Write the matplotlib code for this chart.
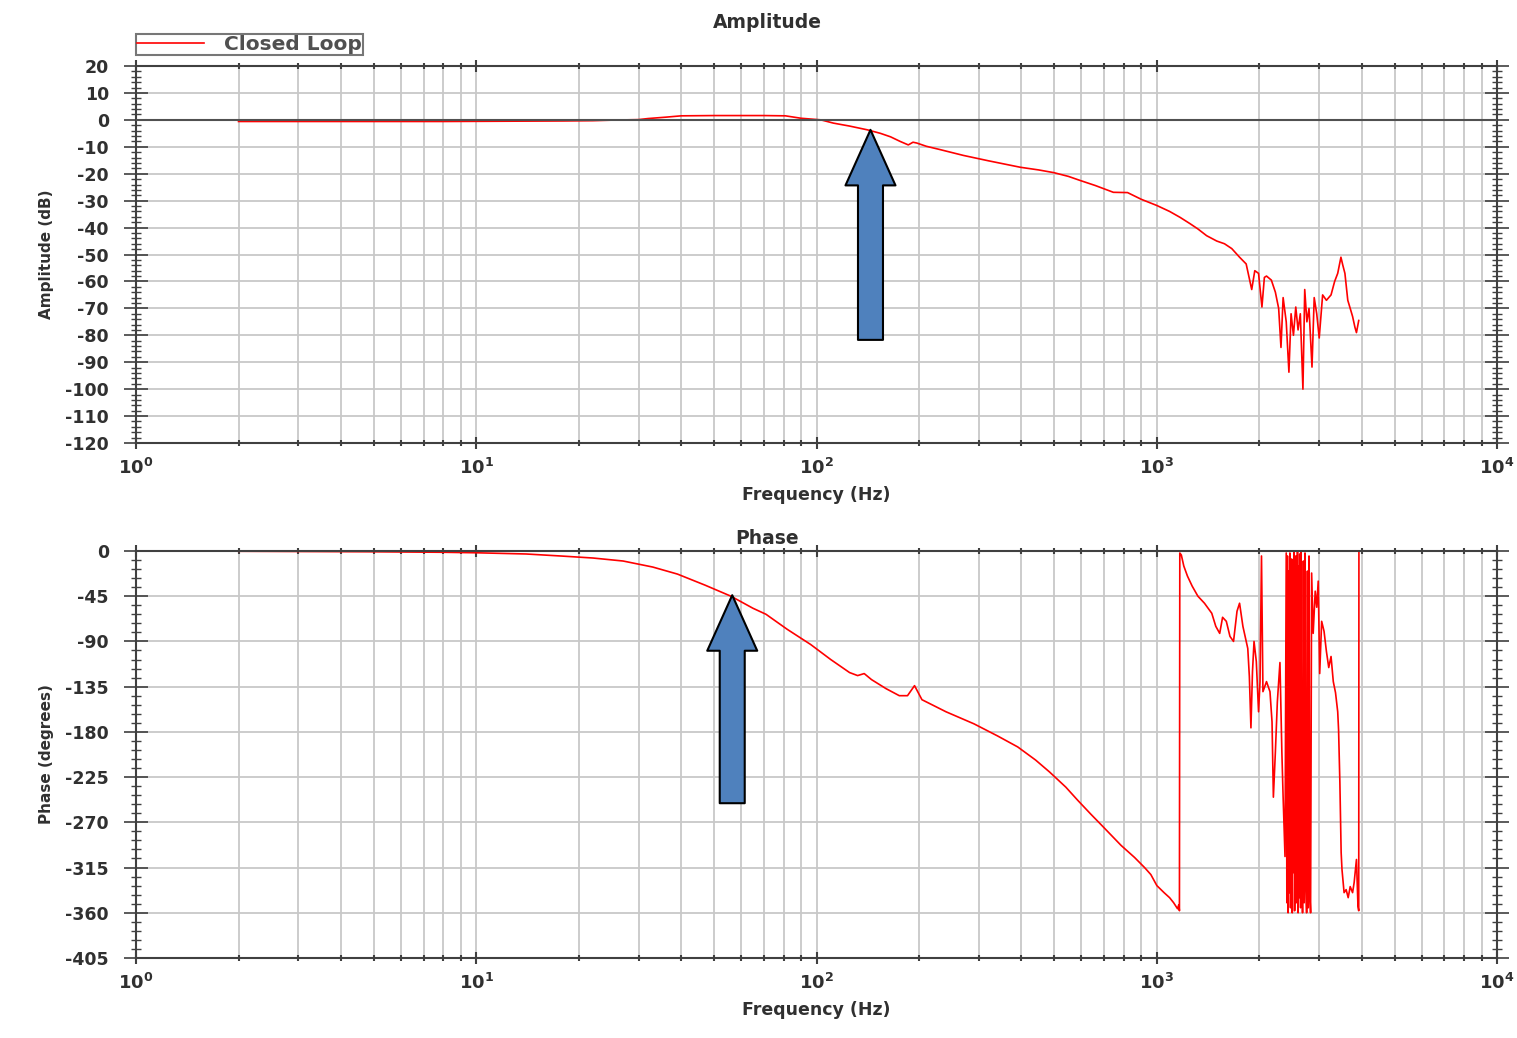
import numpy as np
import matplotlib
matplotlib.use("Agg")
import matplotlib.pyplot as plt
from matplotlib.ticker import MultipleLocator, LogLocator, LogFormatterMathtext, NullFormatter
from matplotlib.patches import FancyArrowPatch

# Closed-loop Bode data
amp_freq = [2, 3, 5, 8, 12, 18, 22, 25, 30, 32, 36, 40, 50, 60, 70, 81, 90,
            103, 112, 125, 141, 154, 165, 176, 186, 192, 197, 210, 230, 270,
            320, 397, 450, 498, 550, 595, 660, 745, 820, 900, 1000, 1090,
            1170, 1250, 1320, 1400, 1500, 1580, 1660, 1750, 1830, 1900, 1940,
            1990, 2036, 2070, 2100, 2170, 2230, 2280, 2316, 2350, 2400, 2444,
            2480, 2520, 2560, 2600, 2640, 2687, 2720, 2760, 2800, 2857, 2900,
            2950, 3000, 3070, 3150, 3250, 3330, 3400, 3475, 3520, 3570, 3640,
            3700, 3760, 3820, 3860, 3920]
amp_db = [-0.6, -0.6, -0.6, -0.6, -0.5, -0.4, -0.3, -0.1, 0.1, 0.5, 1.0, 1.5,
          1.6, 1.6, 1.6, 1.5, 0.6, 0.0, -1.2, -2.3, -3.7, -5.0, -6.3, -8.0,
          -9.3, -8.3, -8.6, -9.8, -11.0, -13.2, -15.2, -17.6, -18.6, -19.6,
          -21.0, -22.5, -24.4, -26.9, -27.0, -29.5, -31.8, -34.0, -36.2,
          -38.5, -40.5, -43.0, -45.0, -46.0, -47.8, -51.0, -53.5, -63.0,
          -56.0, -57.0, -69.5, -58.5, -58.0, -59.5, -64.0, -70.0, -84.5,
          -66.0, -75.0, -93.7, -72.0, -80.0, -69.5, -78.0, -72.0, -100.0,
          -63.0, -75.0, -70.0, -91.8, -66.0, -72.0, -81.0, -65.0, -67.0,
          -65.0, -60.0, -57.0, -51.0, -54.0, -57.0, -67.0, -70.0, -73.0,
          -77.0, -79.0, -74.5]

phase_freq = [2, 3, 5, 8, 10, 14, 17.7, 22, 27, 33, 39, 47, 56, 65, 71, 82,
              96, 110, 125, 132, 138, 145, 160, 175, 185, 194, 204, 240, 290,
              340, 390, 440, 484, 540, 585, 640, 684, 740, 785, 860, 920, 960,
              1000, 1050, 1090, 1120, 1150, 1160, 1165, 1168, 1180, 1200, 1230,
              1270, 1320, 1380, 1450, 1490, 1530, 1560, 1600, 1640, 1680, 1720,
              1750, 1790, 1850, 1870, 1890, 1910, 1930, 1960, 1990, 2010, 2030,
              2050, 2100, 2150, 2180, 2200, 2230, 2260, 2300, 2330, 2350, 2380,
              2400, 2410, 2420, 2430, 2440, 2450, 2460, 2470, 2480, 2490, 2500,
              2510, 2520, 2530, 2540, 2550, 2560, 2570, 2580, 2590, 2600, 2610,
              2620, 2630, 2645, 2650, 2665, 2680, 2695, 2710, 2725, 2740, 2755,
              2770, 2785, 2800, 2815, 2830, 2850, 2880, 2920, 2950, 2980, 3010,
              3050, 3100, 3150, 3200, 3250, 3300, 3350, 3400, 3420, 3450, 3480,
              3500, 3550, 3600, 3650, 3700, 3760, 3800, 3860, 3900, 3920, 3925]
phase_deg = [-0.3, -0.5, -0.8, -1.3, -1.8, -3, -5, -7, -10, -16, -23, -34,
             -45, -57, -63, -78, -93, -108, -121, -124, -122, -128, -137, -144,
             -144, -134, -148, -160, -172, -184, -195, -208, -220, -235, -248,
             -262, -272, -284, -293, -305, -315, -322, -333, -340, -345, -350,
             -356, -352, -358, -2, -4, -15, -25, -35, -45, -52, -62, -75, -82,
             -66, -70, -85, -90, -60, -52, -75, -97, -125, -176, -120, -90,
             -110, -160, -130, -5, -140, -130, -140, -170, -245, -200, -150,
             -111, -200, -245, -304, -2, -350, -5, -360, -20, -340, -2, -355,
             -300, -8, -360, -30, -320, -1, -358, -280, -5, -350, -310, 0,
             -360, -15, -345, -3, -355, 0, -300, -360, -10, -350, -2, -330,
             -360, -20, -355, -5, -340, -360, -22, -82, -40, -56, -30, -122,
             -70, -80, -100, -116, -105, -130, -141, -160, -178, -230, -300,
             -317, -340, -337, -345, -334, -340, -330, -307, -354, -358, 0]

# arrows: (frequency, from, to)
amp_arrow = (144, -81.7, -3.7)
phase_arrow = (56.5, -251, -44)

FONT = "DejaVu Sans"
GRID_COLOR = "#c8c8c8"
SPINE_COLOR = "#404040"
ARROW_BLUE = "#4F81BD"

plt.rcParams["font.family"] = FONT
plt.rcParams["font.weight"] = "bold"
plt.rcParams["axes.unicode_minus"] = False


def style_axes(ax, ymin, ymax, ymajor, yminor):
    ax.set_xscale("log")
    ax.set_xlim(1, 1e4)
    ax.set_ylim(ymin, ymax)
    ax.xaxis.set_major_locator(LogLocator(base=10, numticks=10))
    ax.xaxis.set_major_formatter(LogFormatterMathtext())
    ax.xaxis.set_minor_locator(LogLocator(base=10, subs=np.arange(2, 10), numticks=50))
    ax.xaxis.set_minor_formatter(NullFormatter())
    ax.yaxis.set_major_locator(MultipleLocator(ymajor))
    ax.yaxis.set_minor_locator(MultipleLocator(yminor))

    ax.grid(which="both", axis="x", color=GRID_COLOR, lw=1.3)
    ax.grid(which="major", axis="y", color=GRID_COLOR, lw=1.3)
    ax.set_axisbelow(True)
    for sp in ax.spines.values():
        sp.set_color(SPINE_COLOR)
        sp.set_linewidth(1.5)

    ax.tick_params(axis="both", which="both", direction="inout", top=True,
                   right=True, color=SPINE_COLOR)
    ax.tick_params(axis="x", which="major", length=9, width=1.5, pad=6,
                   labelsize=13, labelcolor="#303030")
    ax.tick_params(axis="x", which="minor", length=4, width=1.5)
    ax.tick_params(axis="y", which="major", length=17, width=1.2, pad=11,
                   labelsize=12.5, labelcolor="#303030")
    ax.tick_params(axis="y", which="minor", length=7, width=1.0)
    ax.set_xlabel("Frequency (Hz)", fontsize=12.5, fontweight="bold",
                  labelpad=6, color="#303030")


def add_arrow(ax, spec):
    f, y0, y1 = spec
    arr = FancyArrowPatch((f, y0), (f, y1),
                          arrowstyle="simple,head_length=40,head_width=36,tail_width=18",
                          mutation_scale=1, fc=ARROW_BLUE, ec="black", lw=1.5,
                          shrinkA=0, shrinkB=0, zorder=5)
    ax.add_patch(arr)


fig = plt.figure(figsize=(15.17, 10.38), dpi=100)
ax1 = fig.add_axes([0.0897, 0.5732, 0.8972, 0.3632])
ax2 = fig.add_axes([0.0897, 0.0771, 0.8972, 0.3921])

# Amplitude
style_axes(ax1, -120, 20, 10, 2)
ax1.plot(amp_freq, amp_db, color="red", lw=1.2, label="Closed Loop", zorder=2)
ax1.axhline(0, color="#505050", lw=1.5, zorder=3)
ax1.set_ylabel("Amplitude (dB)", fontsize=11, fontweight="bold", labelpad=8,
               color="#303030")
add_arrow(ax1, amp_arrow)
leg = ax1.legend(loc="lower left", bbox_to_anchor=(0, 1.029), borderaxespad=0,
                 fancybox=False, frameon=True, handlelength=3.3,
                 handletextpad=1.0, borderpad=0.05,
                 prop={"family": FONT, "size": 14.5, "weight": "bold"})
leg.get_frame().set_edgecolor("#555555")
leg.get_frame().set_linewidth(1.5)
for t in leg.get_texts():
    t.set_color("#505050")

# Phase
style_axes(ax2, -405, 0, 45, 9)
ax2.plot(phase_freq, phase_deg, color="red", lw=1.2, zorder=2)
ax2.set_ylabel("Phase (degrees)", fontsize=11, fontweight="bold", labelpad=8,
               color="#303030")
add_arrow(ax2, phase_arrow)

fig.text(767 / 1517, 1 - 22 / 1038, "Amplitude", ha="center", va="center",
         fontsize=13.5, fontweight="bold", color="#303030")
fig.text(767 / 1517, 1 - 539 / 1038, "Phase", ha="center", va="center",
         fontsize=13.5, fontweight="bold", color="#303030")

fig.savefig("out.png", dpi=100)
